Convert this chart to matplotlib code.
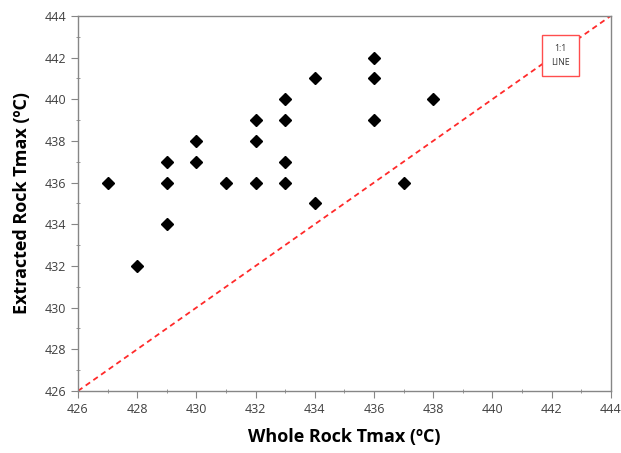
import matplotlib
matplotlib.use("Agg")
import matplotlib.pyplot as plt
from matplotlib.ticker import MultipleLocator

plt.rcParams['font.family'] = ['Open Sans', 'DejaVu Sans']

whole_rock = [427, 428, 429, 429, 429, 430, 430, 431, 432, 432, 432,
              433, 433, 433, 433, 434, 434, 436, 436, 436, 437, 438]
extracted = [436, 432, 437, 436, 434, 438, 437, 436, 439, 438, 436,
             440, 439, 437, 436, 441, 435, 442, 441, 439, 436, 440]
line_11 = [426, 444]
xticks = list(range(426, 445, 2))
yticks = list(range(426, 445, 2))

fig = plt.figure(figsize=(6.21, 4.53), dpi=100)
ax = fig.add_axes([0.1256, 0.137, 0.858, 0.828])

ax.plot(line_11, line_11, color='#ff2a2a', linestyle=(0, (3, 2.2)), linewidth=1.3, zorder=2)
ax.plot(whole_rock, extracted, linestyle='none', marker='D', markersize=6.3,
        color='black', zorder=3)

ax.set_xlim(426, 444)
ax.set_ylim(426, 444)
ax.set_xticks(xticks)
ax.set_yticks(yticks)
ax.xaxis.set_minor_locator(MultipleLocator(1))
ax.yaxis.set_minor_locator(MultipleLocator(1))
ax.tick_params(which='both', colors='#868686', labelcolor='#404040', labelsize=9, direction='out')
ax.tick_params(which='major', length=5)
ax.tick_params(which='minor', length=3, direction='inout')
for s in ax.spines.values():
    s.set_color('#868686')
    s.set_linewidth(1.0)

ax.set_xlabel('Whole Rock Tmax (ºC)', fontsize=13, fontweight='bold', labelpad=9)
ax.set_ylabel('Extracted Rock Tmax (ºC)', fontsize=13, fontweight='bold', labelpad=10)

ax.text(442.3, 442.1, '1:1\nLINE', fontsize=6.3, ha='center', va='center', color='#333333',
        linespacing=1.7,
        bbox=dict(boxstyle='square,pad=1.0', facecolor='white', edgecolor='#ff4d4d', linewidth=1.0),
        zorder=4)

fig.savefig('out.png', dpi=100)
